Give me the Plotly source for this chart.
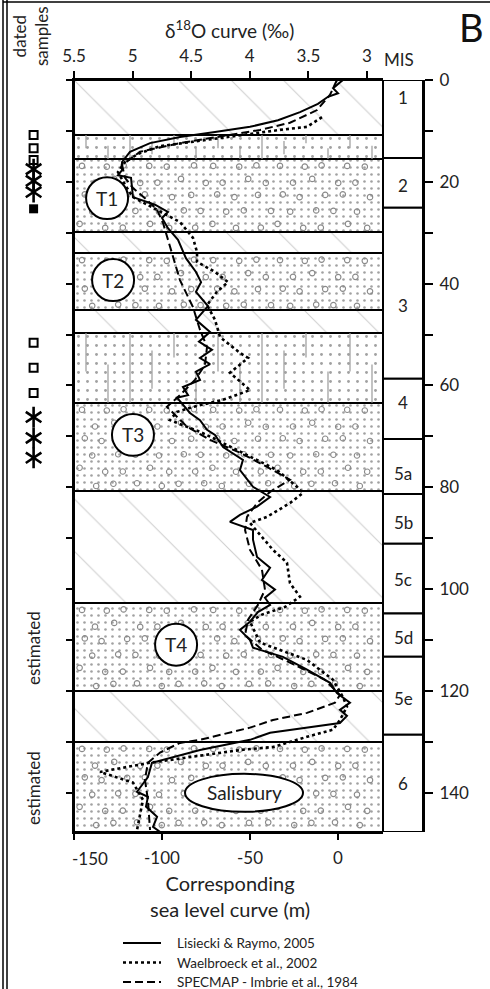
import plotly.graph_objects as go

FONT = "Lato"

# ---------------- data ----------------
# Lisiecki & Raymo 2005 (age ka, sea level m)
lr_age = [0, 1.6, 2.6, 3.3, 4.7, 6.3, 7.9, 9.2, 10.2, 11.2, 12.4, 14.1, 16.1, 17.7, 18.7, 19.2, 23.0, 24.5,
          25.9, 27.1, 29.1, 31.4, 35.0, 37.7, 39.7, 41.6, 44.4, 47.1, 49.5, 51.4, 53.0, 54.6, 55.8, 57.3,
          58.9, 60.3, 61.9, 62.4, 65.4, 66.8, 68.7, 69.7, 72.1, 74.6, 76.6, 79.9, 81.9, 83.8, 85.4, 86.8,
          88.4, 90.3, 93.7, 95.8, 98.2, 100.1, 101.7, 103.1, 104.5, 106.4, 108.0, 110.0, 111.5, 113.3,
          115.8, 118.4, 120.4, 122.3, 123.7, 124.9, 126.3, 127.2, 128.2, 129.6, 131.6, 134.1, 136.9,
          139.8, 140.8, 142.7, 144.7, 146.7, 147.7]
lr_sl = [2.8, -2.8, 0, -5.7, -11.4, -21.6, -34.1, -50, -69.9, -89.8, -106.8, -118.2, -122.7, -122.7, -125,
         -117.6, -116.5, -104, -96.6, -100, -96.6, -90.9, -86.4, -80.7, -77.8, -80.7, -73.9, -80.7, -72.7,
         -79, -71.6, -78.4, -72.7, -80.7, -78.4, -88.1, -85.2, -91.5, -84.1, -78.4, -74.4, -69.9, -65.3,
         -54, -55.7, -48.3, -38.6, -46, -55.7, -61.4, -48.3, -48.3, -46, -38.6, -43.2, -35.8, -41.5,
         -38.6, -45.5, -50, -55.7, -50, -48.3, -31.3, -17.6, -4.5, -0.6, 6.8, 1.1, 5.1, 1.1, -17.6,
         -38.6, -50, -78.4, -105.7, -108, -114.2, -108, -109.1, -102.8, -105.1, -101]

# Waelbroeck et al. 2002
wb_age = [7.3, 9.2, 9.8, 10.6, 11.8, 13.0, 14.5, 16.1, 18.1, 20.6, 23.0, 25.9, 27.9, 31.0, 33.8, 35.7,
          37.7, 39.7, 41.6, 44.2, 47.1, 50.5, 53.6, 54.6, 57.5, 60.9, 62.8, 64.2, 65.2, 66.8, 69.1,
          70.7, 74.0, 76.6, 79.9, 81.1, 83.1, 85.8, 87.0, 92.3, 94.8, 98.8, 101.5, 103.5, 105.0, 106.4,
          110.5, 113.9, 117.8, 121.2, 123.1, 125.7, 127.6, 129.0, 131.0, 131.6, 134.1, 135.9, 138.0,
          141.4, 147.3]
wb_sl = [-9.1, -17.6, -33, -50, -78.4, -101.1, -113.6, -121, -125, -121, -116.5, -101.1, -89.8, -82.4,
         -80.1, -80.1, -69.9, -62.5, -68.8, -74.4, -69.9, -67, -55.7, -51.1, -61.4, -50, -65.3, -82.4,
         -91.5, -95.5, -78.4, -68.8, -50, -34.7, -23.3, -19.9, -27.3, -40.3, -50, -36.9, -29, -27.3,
         -21.6, -30.1, -43.2, -50, -44.3, -17.6, -2.8, 2.8, 5.1, 1.1, -2.8, -17.6, -36.9, -55.7, -106.8,
         -135.2, -116.5, -110.8, -114.2]

# SPECMAP - Imbrie et al. 1984
sp_age = [0, 2.9, 5.9, 8.4, 9.8, 10.8, 12.4, 14.1, 16.7, 19.2, 21.2, 23.6, 25.5, 28.1, 31.4, 34.4, 39.3,
          44.6, 49.1, 52.4, 56.0, 58.9, 61.9, 64.2, 68.1, 70.7, 73.2, 76.0, 78.5, 80.9, 83.1, 85.8, 88.4,
          92.3, 96.2, 100.1, 103.1, 106.0, 109.0, 111.9, 114.9, 117.8, 120.8, 122.3, 124.3, 125.7,
          127.2, 129.6, 130.2, 132.1, 134.1, 137.4, 141.4, 147.3]
sp_sl = [-0.6, -4.5, -11.9, -27.3, -44.3, -61.4, -89.8, -112.5, -122.7, -121, -116.5, -108.5, -102.8,
         -99.4, -96.6, -94.3, -89.8, -82.4, -78.4, -74.4, -75.6, -81.3, -89.8, -97.2, -85.8, -72.7,
         -55.7, -40.3, -27.3, -38.6, -46, -51.7, -52.8, -50, -43.2, -41.5, -45.5, -51.1, -52.8, -43.2,
         -24.4, -7.4, 1.1, -1.7, -17.6, -36.9, -50, -78.4, -89.8, -101.1, -108, -109.7, -108, -106.8]

# stratigraphic units (ka)
band_top = [0, 10.8, 15.5, 29.9, 34.0, 45.2, 49.7, 63.4, 80.7, 102.7, 120.0, 130.0]
band_bot = [10.8, 15.5, 29.9, 34.0, 45.2, 49.7, 63.4, 80.7, 102.7, 120.0, 130.0, 147.7]
band_kind = ["hatch", "silt", "gravel", "hatch", "gravel", "hatch", "silt", "gravel", "hatch",
             "gravel", "hatch", "gravel"]

# marine isotope stages
mis_top = [0, 15.3, 25.1, 58.7, 70.5, 81.3, 91.1, 104.8, 113.3, 128.6]
mis_bot = [15.3, 25.1, 58.7, 70.5, 81.3, 91.1, 104.8, 113.3, 128.6, 147.7]
mis_label = ["1", "2", "3", "4", "5a", "5b", "5c", "5d", "5e", "6"]
mis_label_age = [3.4, 20.8, 44.2, 63.4, 77.2, 87.0, 98.2, 109.4, 121.5, 138.2]

# dated samples (ka)
sq_open_age = [10.8, 13.4, 15.7, 51.6, 56.5, 61.5]
star_age = [17.5, 19.8, 22.0, 66.2, 70.3, 74.2]
sq_fill_age = [25.3]

# terrace labels
terr_label = ["T1", "T2", "T3", "T4"]
terr_sl = [-131.2, -127.8, -116.5, -92.0]
terr_age = [23.2, 39.3, 69.7, 110.9]

sl_ticks = [-150, -100, -50, 0]
d18_ticks = [5.5, 5, 4.5, 4, 3.5, 3]
age_ticks = list(range(0, 150, 10))

SL_RANGE = [-150, 25.57]
D18_RANGE = [5.5, 2.8635]
AGE_MAX = 147.7

PXX = 1.76    # px per m
PXY = 5.093   # px per ka

fig = go.Figure()

# ---------- sediment bands ----------
mid = (SL_RANGE[0] + SL_RANGE[1]) / 2
wid = SL_RANGE[1] - SL_RANGE[0]
styles = {
    "hatch": dict(shape="\\", size=37, solidity=0.03, fgcolor="#a0a0a0"),
    "gravel": dict(shape=".", size=7, solidity=0.11, fgcolor="#444"),
    "silt": dict(shape=".", size=9, solidity=0.08, fgcolor="#444"),
}
for kind, st in styles.items():
    tops = [t for t, k in zip(band_top, band_kind) if k == kind]
    bots = [b for b, k in zip(band_bot, band_kind) if k == kind]
    fig.add_trace(go.Bar(
        x=[mid] * len(tops), y=[b - t for t, b in zip(tops, bots)], base=tops,
        width=[wid] * len(tops), xaxis="x", yaxis="y",
        marker=dict(color="white", line=dict(color="black", width=2),
                    pattern=dict(shape=st["shape"], size=st["size"], solidity=st["solidity"],
                                 fgcolor=st["fgcolor"], bgcolor="white", fillmode="overlay")),
        showlegend=False, hoverinfo="skip"))

# gravel texture: open circles on a staggered lattice
jit = [0.0, 0.35, -0.3, 0.15, -0.4, 0.25, -0.1, 0.4, -0.2]
cx, cy = [], []
for t, b, k in zip(band_top, band_bot, band_kind):
    if k != "gravel":
        continue
    row = 0
    yv = t + 7 / PXY
    while yv < b - 5 / PXY:
        xv = SL_RANGE[0] + (8 + (row % 2) * 11) / PXX
        col = 0
        while xv < SL_RANGE[1] - 5 / PXX:
            j = jit[(row * 5 + col) % len(jit)]
            cx.append(xv + j * 8 / PXX)
            cy.append(yv + jit[(row + col * 3) % len(jit)] * 5 / PXY)
            xv += 22 / PXX
            col += 1
        yv += 15 / PXY
        row += 1
fig.add_trace(go.Scatter(x=cx, y=cy, mode="markers", xaxis="x", yaxis="y",
                         marker=dict(symbol="circle-open", size=5.5, color="#8a8a8a", line=dict(width=1.1)),
                         showlegend=False, hoverinfo="skip"))

# silt texture: short vertical strokes
vx, vy = [], []
for t, b, k in zip(band_top, band_bot, band_kind):
    if k != "silt":
        continue
    h = b - t
    i = 0
    xv = SL_RANGE[0] + 12 / PXX
    fr = [(0.0, 0.55), (0.45, 1.0), (0.0, 1.0), (0.25, 0.8), (0.0, 0.35), (0.55, 1.0)]
    while xv < SL_RANGE[1] - 4 / PXX:
        f0, f1 = fr[i % len(fr)]
        vx += [xv, xv, None]
        vy += [t + f0 * h, t + f1 * h, None]
        xv += 22 / PXX
        i += 1
fig.add_trace(go.Scatter(x=vx, y=vy, mode="lines", xaxis="x", yaxis="y",
                         line=dict(color="#9a9a9a", width=1.2), showlegend=False, hoverinfo="skip"))

# ---------- curves ----------
DASH = "8px,4px"
fig.add_trace(go.Scatter(x=wb_sl, y=wb_age, mode="lines", xaxis="x", yaxis="y",
                         line=dict(color="black", width=2.6, dash="dot"), name="Waelbroeck et al., 2002"))
fig.add_trace(go.Scatter(x=sp_sl, y=sp_age, mode="lines", xaxis="x", yaxis="y",
                         line=dict(color="black", width=2, dash=DASH), name="SPECMAP - Imbrie et al., 1984"))
fig.add_trace(go.Scatter(x=lr_sl, y=lr_age, mode="lines", xaxis="x", yaxis="y",
                         line=dict(color="black", width=2), name="Lisiecki & Raymo, 2005"))

# ---------- dated samples ----------
fig.add_trace(go.Scatter(x=[0.4] * len(sq_open_age), y=sq_open_age, mode="markers", xaxis="x4", yaxis="y",
                         marker=dict(symbol="square-open", size=8, color="black", line=dict(width=2)),
                         showlegend=False, hoverinfo="skip"))
for sym in ["y-up-open", "y-down-open"]:
    fig.add_trace(go.Scatter(x=[0.4] * len(star_age), y=star_age, mode="markers", xaxis="x4", yaxis="y",
                             marker=dict(symbol=sym, size=13, color="black", line=dict(width=2.6, color="black")),
                             showlegend=False, hoverinfo="skip"))
fig.add_trace(go.Scatter(x=[0.4] * len(sq_fill_age), y=sq_fill_age, mode="markers", xaxis="x4", yaxis="y",
                         marker=dict(symbol="square", size=9, color="black"),
                         showlegend=False, hoverinfo="skip"))

# dummy traces so the secondary axes render
fig.add_trace(go.Scatter(x=[4], y=[0], xaxis="x2", yaxis="y", mode="markers",
                         marker=dict(opacity=0), showlegend=False, hoverinfo="skip"))
fig.add_trace(go.Scatter(x=[0.5], y=[0], xaxis="x3", yaxis="y2", mode="markers",
                         marker=dict(opacity=0), showlegend=False, hoverinfo="skip"))

# ---------- layout ----------
W, H = 490, 989
L, R, T, B = 0, 67, 80, 157
PW = W - L - R
PH = H - T - B


def px(xp):
    return (xp - L) / PW


def py(yp):
    return (H - B - yp) / PH


shapes = []
annotations = []


def ann(**kw):
    d = dict(showarrow=False, xanchor="center", yanchor="middle")
    d.update(kw)
    annotations.append(d)


# MIS boxes
for t, b in zip(mis_top, mis_bot):
    shapes.append(dict(type="rect", xref="x3", yref="y", x0=0, x1=1, y0=t, y1=b,
                       line=dict(color="black", width=2), fillcolor="white", layer="below"))
for lab, a in zip(mis_label, mis_label_age):
    ann(xref="x3", yref="y", x=0.5, y=a, text=lab, font=dict(size=17, color="#222", family=FONT))

# terrace circles
r = 21
for lab, s, a in zip(terr_label, terr_sl, terr_age):
    shapes.append(dict(type="circle", xref="x", yref="y", x0=s - r / PXX, x1=s + r / PXX,
                       y0=a - r / PXY, y1=a + r / PXY, line=dict(color="black", width=2),
                       fillcolor="white", layer="above"))
    ann(xref="x", yref="y", x=s, y=a, text=lab, font=dict(size=19, color="#222", family=FONT))
# Salisbury ellipse
shapes.append(dict(type="circle", xref="x", yref="y", x0=-53.4 - 59 / PXX, x1=-53.4 + 59 / PXX,
                   y0=140 - 19 / PXY, y1=140 + 19 / PXY, line=dict(color="black", width=2),
                   fillcolor="white", layer="above"))
ann(xref="x", yref="y", x=-53.4, y=140, text="Salisbury", font=dict(size=19, color="#222", family=FONT))

# frame
for xl in [3, 7]:
    shapes.append(dict(type="line", xref="paper", yref="paper", x0=px(xl), x1=px(xl), y0=py(989), y1=py(0),
                       line=dict(color="black", width=1.5)))
shapes.append(dict(type="line", xref="paper", yref="paper", x0=px(3), x1=px(490), y0=py(2), y1=py(2),
                   line=dict(color="black", width=1.5)))

# texts
ann(xref="paper", yref="paper", x=px(229), y=py(29), text="δ<sup>18</sup>O curve (‰)",
    font=dict(size=19, color="#222", family=FONT))
ann(xref="paper", yref="paper", x=px(399), y=py(60), text="MIS", font=dict(size=17, color="#222", family=FONT))
ann(xref="paper", yref="paper", x=px(471), y=py(27), text="B", font=dict(size=38, color="#111", family=FONT))
ann(xref="paper", yref="paper", x=px(31), y=py(36), text="dated<br>samples", textangle=-90,
    font=dict(size=17, color="#222", family=FONT))
ann(xref="paper", yref="paper", x=px(33), y=py(648), text="estimated", textangle=-90,
    font=dict(size=17, color="#222", family=FONT))
ann(xref="paper", yref="paper", x=px(33), y=py(788), text="estimated", textangle=-90,
    font=dict(size=17, color="#222", family=FONT))
ann(xref="paper", yref="paper", x=px(230), y=py(896), text="Corresponding<br>sea level curve (m)",
    font=dict(size=20, color="#222", family=FONT))
ann(xref="x", yref="paper", x=-150, xshift=16, y=py(858), text="-150",
    font=dict(size=17, color="#222", family=FONT))

# legend (manual)
leg = [("Lisiecki & Raymo, 2005", "solid", 2), ("Waelbroeck et al., 2002", "dot", 2.4),
       ("SPECMAP - Imbrie et al., 1984", DASH, 2)]
for i, (txt, dsh, lw) in enumerate(leg):
    yy = 943 + 19.5 * i
    shapes.append(dict(type="line", xref="paper", yref="paper", x0=px(123), x1=px(161), y0=py(yy), y1=py(yy),
                       line=dict(color="black", width=lw, dash=dsh)))
    ann(xref="paper", yref="paper", x=px(175), y=py(yy), xanchor="left", text=txt,
        font=dict(size=13.5, color="#222", family=FONT))

axis_common = dict(showgrid=False, zeroline=False, linecolor="black", linewidth=2, ticks="outside",
                   tickcolor="black", tickwidth=2, automargin=False,
                   tickfont=dict(size=17, color="#222", family=FONT))

fig.update_layout(
    width=W, height=H, margin=dict(l=L, r=R, t=T, b=B, pad=0, autoexpand=False),
    paper_bgcolor="white", plot_bgcolor="white", barmode="overlay", bargap=0,
    showlegend=False, font=dict(family=FONT),
    xaxis=dict(domain=[px(74), px(383)], range=SL_RANGE, anchor="y", tickvals=sl_ticks,
               ticktext=["", "-100", "-50", "0"], ticklen=6, ticklabelstandoff=4, showline=True, **axis_common),
    xaxis2=dict(overlaying="x", side="top", anchor="y", range=D18_RANGE, tickvals=d18_ticks,
                ticktext=[str(v) for v in d18_ticks], ticklen=7, ticklabelstandoff=2, showline=True, **axis_common),
    xaxis3=dict(domain=[px(383), 1], range=[0, 1], anchor="y", visible=False, automargin=False),
    xaxis4=dict(domain=[px(8), px(72)], range=[0, 1], anchor="y", visible=False, automargin=False),
    yaxis=dict(range=[AGE_MAX, 0], anchor="x", tickvals=age_ticks, showticklabels=False, ticklen=6,
               showline=True, **axis_common),
    yaxis2=dict(overlaying="y", side="right", anchor="x3", range=[AGE_MAX, 0], tickvals=age_ticks,
                ticktext=[str(v) if v % 20 == 0 else "" for v in age_ticks], ticklen=8, ticklabelstandoff=3,
                showline=True, **axis_common),
    shapes=shapes, annotations=annotations,
)

fig.write_html("out.html")
